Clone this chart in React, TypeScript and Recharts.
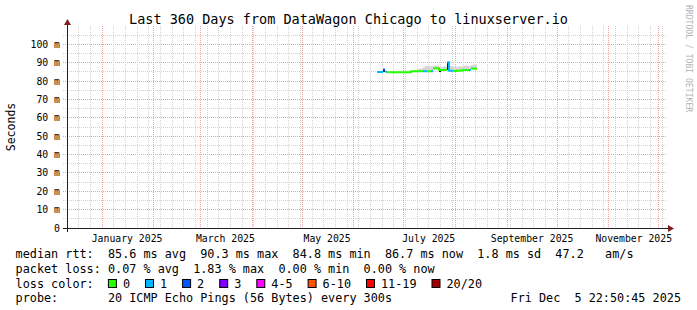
import React from 'react';
import { ComposedChart, Line, Area, XAxis, YAxis, CartesianGrid } from 'recharts';

// ---------- time frame ----------
const DAY_MS = 86400000;
const END_TIME = Date.UTC(2025, 11, 5, 22, 50, 45);
const RANGE_DAYS = 360;
const START_TIME = END_TIME - RANGE_DAYS * DAY_MS;
const dayOf = (y: number, m: number, d: number) => (Date.UTC(y, m, d) - START_TIME) / DAY_MS;

// ---------- axis / tick data ----------
const monthLabelNames = ['January 2025', 'March 2025', 'May 2025', 'July 2025', 'September 2025', 'November 2025'];
const monthLabelIndex = [0, 2, 4, 6, 8, 10];
const gridMonths = [0, 1, 2, 3, 4, 5, 6, 7, 8, 9, 10, 11];
const yMajorTicks = [0, 10, 20, 30, 40, 50, 60, 70, 80, 90, 100];
const yMinorTicks = [5, 15, 25, 35, 45, 55, 65, 75, 85, 95, 105];
const Y_MAX = 110;

const labelDays = monthLabelIndex.map((m) => dayOf(2025, m, 1) + 15);
const monthGridDays = gridMonths.map((m) => dayOf(2025, m, 1));
const weekAnchor = dayOf(2025, 0, 1);
const weekGridDays: number[] = [];
for (let d = weekAnchor - 7 * 3; d <= RANGE_DAYS; d += 7) if (d >= 0) weekGridDays.push(d);

// ---------- series data (days since start, values in ms) ----------
const sampleDays = [
  186, 187.2, 188.4, 189.6, 190.8, 192, 193.2, 194.4, 195.6, 196.8,
  198, 199.2, 200.4, 201.6, 202.8, 204, 205.2, 206.4, 207.6, 208.8,
  210, 211.2, 212.4, 213.6, 214.8, 216, 217.2, 218.4, 219.6, 220.8,
  222, 223.2, 224.4, 225.6, 226.8, 228, 229.2, 230.4, 231.6, 232.8,
  234, 235.2, 236.4, 237.6, 238.8, 240, 241.2, 242.4, 243.6, 244.8,
];
const medianMs = [
  85.0, 85.0, 85.0, 86.3, 85.1, 84.8, 84.8, 84.8, 84.8, 84.8,
  84.8, 84.8, 84.8, 84.8, 84.8, 84.8, 84.8, 85.3, 85.3, 85.3,
  85.3, 85.4, 85.4, 85.3, 85.3, 85.4, 85.4, 85.3, 86.8, 87.0,
  87.0, 86.0, 86.1, 86.1, 86.2, 90.3, 85.6, 85.6, 85.5, 85.5,
  85.6, 85.6, 85.8, 86.0, 86.0, 86.0, 86.0, 86.8, 86.9, 86.7,
];
const lossCount = [
  1, 1, 1, 2, 1, 0, 0, 0, 0, 0,
  0, 0, 0, 0, 0, 0, 0, 0, 0, 0,
  0, 0, 0, 1, 1, 0, 0, 1, 0, 0,
  0, 0, 0, 0, 0, 1, 1, 1, 0, 0,
  0, 0, 0, 0, 0, 0, 1, 0, 0, 0,
];
const smokeHighMs = [
  85.5, 85.5, 85.5, 86.6, 85.6, 85.2, 85.2, 85.2, 85.2, 85.2,
  85.2, 85.2, 85.2, 85.2, 85.2, 85.2, 85.2, 85.7, 85.9, 86.1,
  86.6, 86.9, 86.9, 87.5, 88.2, 88.4, 88.1, 87.9, 88.3, 88.5,
  88.3, 87.6, 87.7, 87.9, 88.0, 90.5, 88.3, 88.1, 87.8, 87.6,
  87.9, 88.1, 87.9, 88.3, 88.5, 88.3, 88.1, 88.7, 88.9, 89.0,
];
const darkLowMs: (number | null)[] = [
  null, null, null, 85.0, null, null, null, null, null, null,
  null, null, null, null, null, null, null, null, null, null,
  null, null, null, null, null, null, null, null, null, null,
  null, 85.0, null, null, null, 86.0, null, null, null, null,
  null, null, null, null, null, null, null, null, null, null,
];
const darkHighMs: (number | null)[] = [
  null, null, null, 86.3, null, null, null, null, null, null,
  null, null, null, null, null, null, null, null, null, null,
  null, null, null, null, null, null, null, null, null, null,
  null, 86.6, null, null, null, 90.3, null, null, null, null,
  null, null, null, null, null, null, null, null, null, null,
];

// ---------- legend ----------
const lossColors = ['#26ff00', '#00b8ff', '#0059ff', '#7e00ff', '#ff00ff', '#ff5500', '#ff0000', '#a10000'];
const lossLabels = ['0', '1', '2', '3', '4-5', '6-10', '11-19', '20/20'];
const lossUpper = [0, 1, 2, 3, 5, 10, 19, 20];
const bucketOf = (c: number) => lossUpper.findIndex((u) => c <= u);

const statsLine1 = 'median rtt:  85.6 ms avg  90.3 ms max  84.8 ms min  86.7 ms now  1.8 ms sd  47.2   am/s';
const statsLine2 = 'packet loss: 0.07 % avg  1.83 % max  0.00 % min  0.00 % now';
const probeLine = 'probe:       20 ICMP Echo Pings (56 Bytes) every 300s';
const dateLine = 'Fri Dec  5 22:50:45 2025';
const titleText = 'Last 360 Days from DataWagon Chicago to linuxserver.io';

// ---------- rows ----------
const rows: any[] = [];
sampleDays.forEach((d, i) => {
  const end = i + 1 < sampleDays.length ? sampleDays[i + 1] : d + (d - sampleDays[i - 1]);
  const b = bucketOf(lossCount[i]);
  [d, end].forEach((t) => {
    const row: any = { t, smoke: [medianMs[i], smokeHighMs[i]] };
    row['m' + b] = medianMs[i];
    row.dark = darkLowMs[i] != null ? [darkLowMs[i], darkHighMs[i]] : null;
    rows.push(row);
  });
});
const usedBuckets = Array.from(new Set(lossCount.map(bucketOf))).sort();

const MONO = '"DejaVu Sans Mono", monospace';
const CW = 7.1; // legend char width
const GRID_GREY = '#d2d2d2';
const GRID_RED = '#f4a0a0';

const scaleX = (p: any, d: number) =>
  p.xAxis && typeof p.xAxis.scale === 'function'
    ? p.xAxis.scale(d)
    : p.offset.left + (p.offset.width * d) / RANGE_DAYS;
const scaleY = (p: any, v: number) =>
  p.yAxis && typeof p.yAxis.scale === 'function'
    ? p.yAxis.scale(v)
    : p.offset.top + p.offset.height * (1 - v / Y_MAX);
const snap = (c: number) => Math.floor(c) + 0.5;

const vGridDays = [...weekGridDays, ...monthGridDays];
const hGridValues = [...yMinorTicks, ...yMajorTicks.slice(1)];

const renderVLine = (props: any) => {
  const { x1, y1, x2, y2, index } = props;
  const major = index >= weekGridDays.length;
  return (
    <line key={'v' + index} x1={x1} y1={y1} x2={x2} y2={y2} stroke={major ? GRID_RED : GRID_GREY} strokeDasharray="1 1" fill="none" />
  );
};
const renderHLine = (props: any) => {
  const { x1, y1, x2, y2, index } = props;
  const major = index >= yMinorTicks.length;
  return (
    <line key={'h' + index} x1={x1 - 4} y1={y1} x2={x2} y2={y2} stroke={major ? GRID_RED : GRID_GREY} strokeDasharray="1 1" fill="none" />
  );
};

const XTick = (props: any) => {
  const { x, y, payload, index } = props;
  return (
    <text x={x} y={y + 14} textAnchor="middle" fontFamily={MONO} fontSize={9.8} fill="#000">
      {monthLabelNames[index] ?? payload.value}
    </text>
  );
};
const YTick = (props: any) => {
  const { x, y, payload } = props;
  return (
    <text x={x} y={y + 3.5} textAnchor="end" fontFamily={MONO} fontSize={9.8} fill="#000" xmlSpace="preserve">
      {payload.value === 0 ? '0' : `${payload.value} m`}
    </text>
  );
};

export default function App() {
  let col = 15.6 + 13 * CW;
  const legendItems = lossLabels.map((lab, i) => {
    const bx = col;
    const lx = bx + 15;
    col = lx + lab.length * CW + 15;
    return { bx, lx, lab, color: lossColors[i] };
  });

  return (
    <div style={{ position: 'absolute', left: 0, top: 0, width: 697, height: 310, background: '#fff' }}>
      <ComposedChart width={697} height={310} data={rows} margin={{ top: 26, right: 30, bottom: 62, left: 7 }}>
        <CartesianGrid
          vertical={renderVLine}
          horizontal={renderHLine}
          verticalCoordinatesGenerator={(p: any) => vGridDays.map((d) => snap(scaleX(p, d)))}
          horizontalCoordinatesGenerator={(p: any) => hGridValues.map((v) => snap(scaleY(p, v)))}
        />
        <XAxis
          type="number"
          dataKey="t"
          domain={[0, RANGE_DAYS]}
          ticks={labelDays}
          interval={0}
          allowDataOverflow
          height={20}
          tick={<XTick />}
          tickLine={false}
          axisLine={false}
          tickSize={0}
          tickMargin={0}
        />
        <YAxis
          type="number"
          domain={[0, Y_MAX]}
          ticks={yMajorTicks}
          interval={0}
          allowDataOverflow
          width={60}
          tick={<YTick />}
          tickLine={false}
          axisLine={false}
          tickSize={4}
          tickMargin={3}
        />
        <Area dataKey="smoke" type="stepAfter" fill="#d6d6d6" fillOpacity={1} stroke="none" isAnimationActive={false} connectNulls={false} activeDot={false} dot={false} />
        <Area dataKey="dark" type="stepAfter" fill="#222" fillOpacity={1} stroke="none" isAnimationActive={false} connectNulls={false} activeDot={false} dot={false} />
        {usedBuckets.map((b) => (
          <Line
            key={b}
            dataKey={'m' + b}
            type="stepAfter"
            stroke={lossColors[b]}
            strokeWidth={2}
            dot={false}
            activeDot={false}
            connectNulls={false}
            isAnimationActive={false}
          />
        ))}
      </ComposedChart>
      <svg width={697} height={310} style={{ position: 'absolute', left: 0, top: 0, pointerEvents: 'none' }}>
        <text x={348.5} y={24} textAnchor="middle" fontFamily={MONO} fontSize={13.5} fill="#000">{titleText}</text>
        <text transform="translate(686,5) rotate(90)" fontFamily={MONO} fontSize={8.1} fill="#b4b4b4" xmlSpace="preserve">
          RRDTOOL / TOBI OETIKER
        </text>
        <text transform="translate(15,127) rotate(-90)" textAnchor="middle" fontFamily={MONO} fontSize={11.5} fill="#000">
          Seconds
        </text>
        <line x1={67.5} y1={232} x2={67.5} y2={24} stroke="#1f1f1f" strokeWidth={1} />
        <line x1={63} y1={228.5} x2={670} y2={228.5} stroke="#1f1f1f" strokeWidth={1} />
        <polygon points="64,25 71,25 67.5,19" fill="#801f1f" />
        <polygon points="668,225 668,232 674,228.5" fill="#801f1f" />
        <text x={15.6} y={258} fontFamily={MONO} fontSize={11.8} fill="#000" xmlSpace="preserve">{statsLine1}</text>
        <text x={15.6} y={273} fontFamily={MONO} fontSize={11.8} fill="#000" xmlSpace="preserve">{statsLine2}</text>
        <text x={15.6} y={288} fontFamily={MONO} fontSize={11.8} fill="#000" xmlSpace="preserve">loss color:</text>
        {legendItems.map((it) => (
          <g key={it.lab}>
            <rect x={it.bx + 0.5} y={279.5} width={8} height={8} fill={it.color} stroke="#000" strokeWidth={1} />
            <text x={it.lx} y={288} fontFamily={MONO} fontSize={11.8} fill="#000">{it.lab}</text>
          </g>
        ))}
        <text x={15.6} y={302} fontFamily={MONO} fontSize={11.8} fill="#000" xmlSpace="preserve">{probeLine}</text>
        <text x={681} y={302} textAnchor="end" fontFamily={MONO} fontSize={11.8} fill="#000" xmlSpace="preserve">{dateLine}</text>
      </svg>
    </div>
  );
}
